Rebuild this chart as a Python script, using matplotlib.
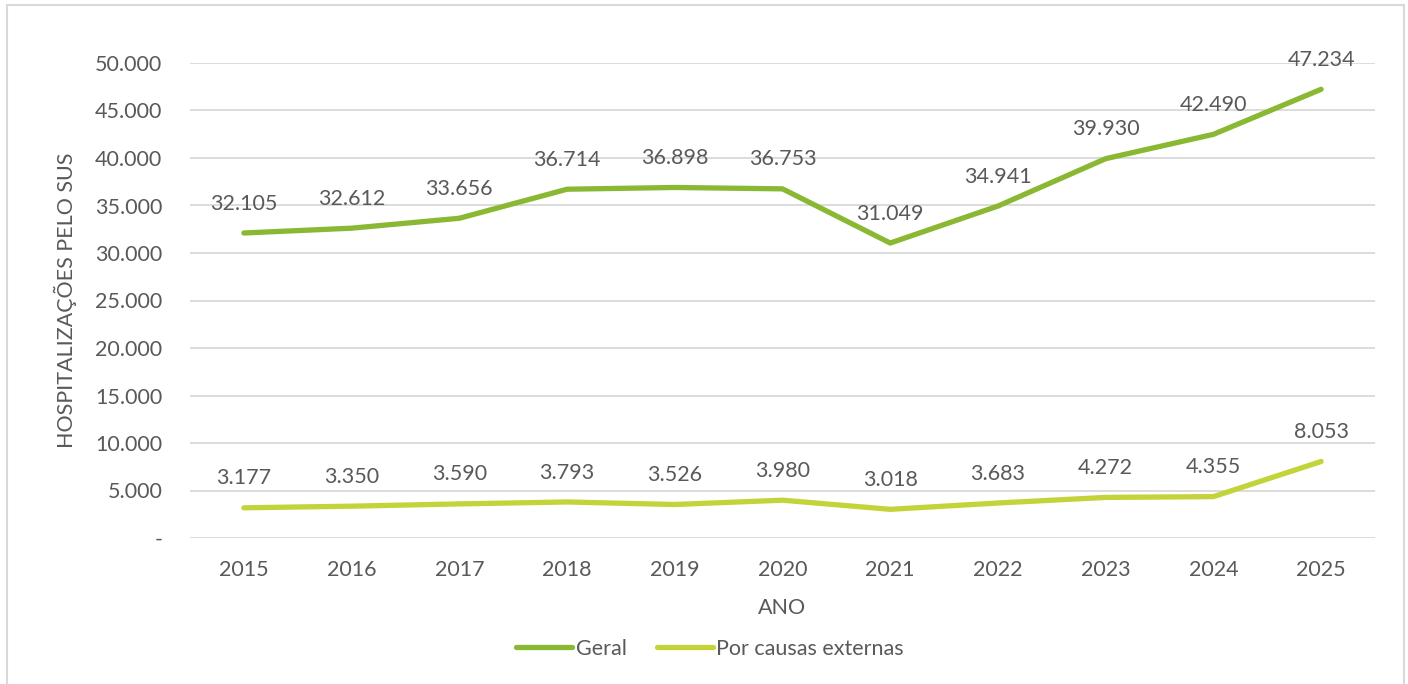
import matplotlib
matplotlib.use("Agg")
import matplotlib.pyplot as plt
from matplotlib.patches import Rectangle
from matplotlib.ticker import FuncFormatter

anos = ["2015", "2016", "2017", "2018", "2019", "2020", "2021", "2022", "2023", "2024", "2025"]
geral = [32105, 32612, 33656, 36714, 36898, 36753, 31049, 34941, 39930, 42490, 47234]
externas = [3177, 3350, 3590, 3793, 3526, 3980, 3018, 3683, 4272, 4355, 8053]

plt.rcParams["font.family"] = ["Lato", "DejaVu Sans"]
txt = "#595959"
c_geral = "#8AB833"
c_ext = "#C4D33A"

fig = plt.figure(figsize=(14.08, 6.84), dpi=100)
fig.patches.append(Rectangle((7 / 1408, -0.01), 1397 / 1408, 1 - 5 / 684 + 0.01,
                             transform=fig.transFigure, fill=False,
                             edgecolor="#D9D9D9", lw=1.5))
ax = fig.add_axes([190 / 1408, 1 - 538 / 684, 1185 / 1408, 475 / 684])

x = list(range(len(anos)))
ax.plot(x, geral, color=c_geral, lw=3.8, solid_capstyle="round", label="Geral")
ax.plot(x, externas, color=c_ext, lw=3.8, solid_capstyle="round", label="Por causas externas")

def fmt(v):
    return f"{v:,}".replace(",", ".")

for serie in (geral, externas):
    for i, v in zip(x, serie):
        ax.annotate(fmt(v), (i, v), xytext=(0, 14), textcoords="offset points",
                    ha="center", va="bottom", fontsize=15.5, color=txt)

ax.set_xlim(-0.5, len(anos) - 0.5)
ax.set_ylim(0, 50000)
ax.set_yticks(range(0, 50001, 5000))
ax.yaxis.set_major_formatter(FuncFormatter(lambda v, p: "-" if v == 0 else fmt(int(v))))
ax.set_xticks(x)
ax.set_xticklabels(anos)
ax.grid(axis="y", color="#D9D9D9", lw=1.3)
ax.set_axisbelow(True)
for s in ax.spines.values():
    s.set_visible(False)
ax.tick_params(length=0, labelsize=15.5, labelcolor=txt)
ax.tick_params(axis="y", pad=20)
ax.tick_params(axis="x", pad=16)

fig.text(65 / 1408, 1 - 300 / 684, "HOSPITALIZAÇÕES PELO SUS", rotation=90,
         ha="center", va="center", fontsize=15.5, color=txt)
fig.text(782 / 1408, 1 - 608 / 684, "ANO", ha="center", va="center", fontsize=15.5, color=txt)

fig.legend(loc="center", bbox_to_anchor=(710 / 1408, 1 - 649 / 684), ncol=2, frameon=False,
           fontsize=15.5, labelcolor=txt, handlelength=2.6, handletextpad=0.15, columnspacing=1.4)

fig.savefig("out.png", dpi=100)
